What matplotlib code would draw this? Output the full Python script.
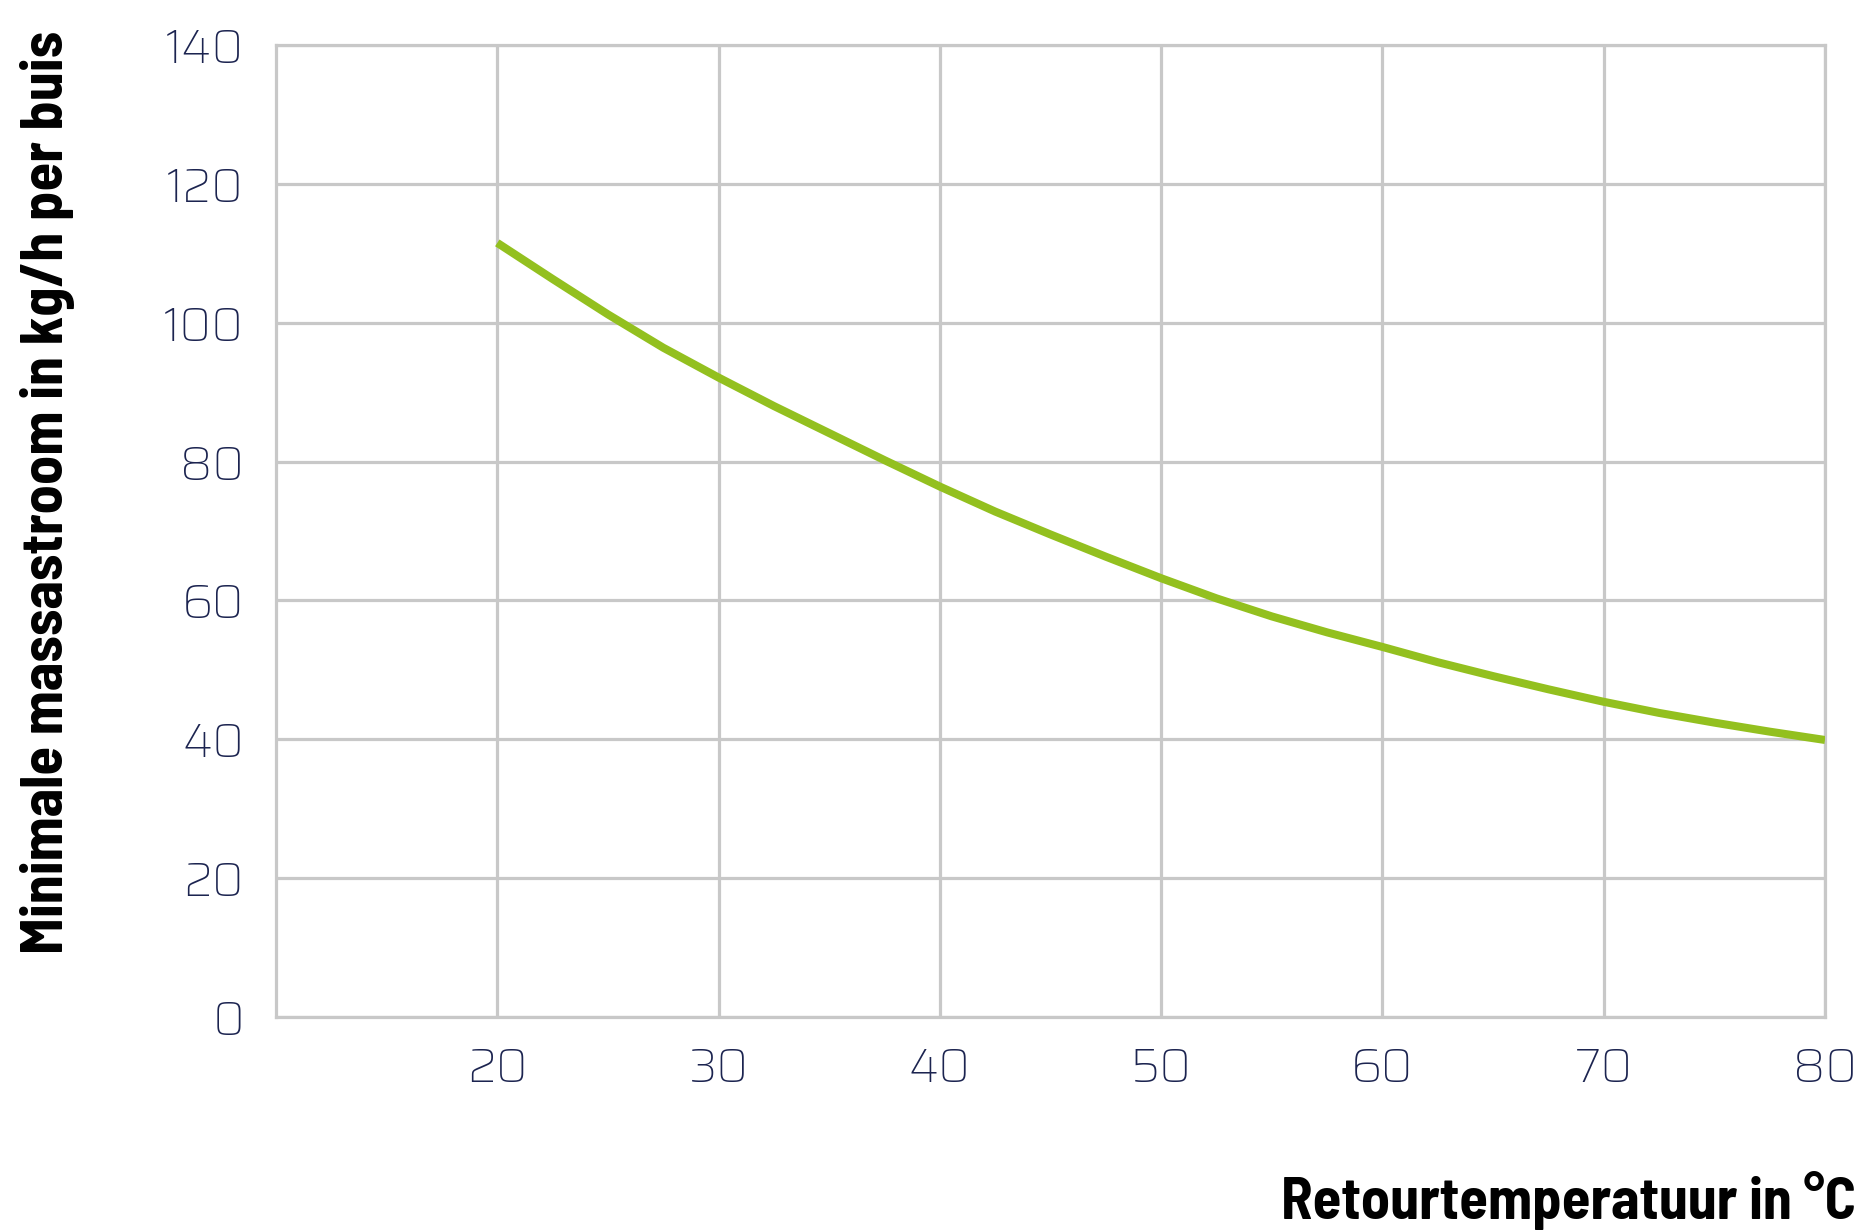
import matplotlib.pyplot as plt

temps = [20, 22.5, 25, 27.5, 30, 32.5, 35, 37.5, 40, 42.5, 45, 47.5, 50,
         52.5, 55, 57.5, 60, 62.5, 65, 67.5, 70, 72.5, 75, 77.5, 80]
flow = [111.5, 106.3, 101.2, 96.4, 92.1, 88.0, 84.1, 80.2, 76.4, 72.8, 69.5, 66.3, 63.2,
        60.3, 57.7, 55.4, 53.3, 51.1, 49.1, 47.2, 45.4, 43.8, 42.4, 41.1, 39.9]

x_ticks = [20, 30, 40, 50, 60, 70, 80]
y_ticks = [0, 20, 40, 60, 80, 100, 120, 140]

grid_col = '#c8c8c8'
tick_col = '#1c2450'
line_col = '#93c01f'
label_font = ['Barlow Semi Condensed', 'Barlow Condensed', 'DejaVu Sans']
tick_font = ['Saira', 'Barlow', 'DejaVu Sans']

fig = plt.figure(figsize=(18.65, 12.31), dpi=100)
ax = fig.add_axes([276 / 1865, 1 - 1017 / 1231, (1825 - 276) / 1865, (1017 - 45) / 1231])

ax.plot(temps, flow, color=line_col, lw=5.8, solid_capstyle='butt', zorder=3)

ax.set_xlim(10, 80)
ax.set_ylim(0, 140)
ax.set_xticks(x_ticks)
ax.set_yticks(y_ticks)
ax.grid(True, color=grid_col, lw=2.3)
ax.set_axisbelow(True)
for s in ax.spines.values():
    s.set_color(grid_col)
    s.set_linewidth(2.3)
ax.tick_params(length=0, labelsize=34, labelcolor=tick_col)
ax.tick_params(axis='y', pad=23)
ax.tick_params(axis='x', pad=21)
for lab in ax.get_xticklabels() + ax.get_yticklabels():
    lab.set_family(tick_font)
    lab.set_fontweight('medium')

fig.text(48 / 1865, 1 - 492 / 1231, 'Minimale massastroom in kg/h per buis',
         rotation=90, ha='center', va='center', fontsize=42,
         fontweight='bold', family=label_font)
fig.text(1856 / 1865, 1 - 1219 / 1231, 'Retourtemperatuur in °C',
         ha='right', va='baseline', fontsize=42,
         fontweight='bold', family=label_font)

fig.savefig('out.png', dpi=100)
